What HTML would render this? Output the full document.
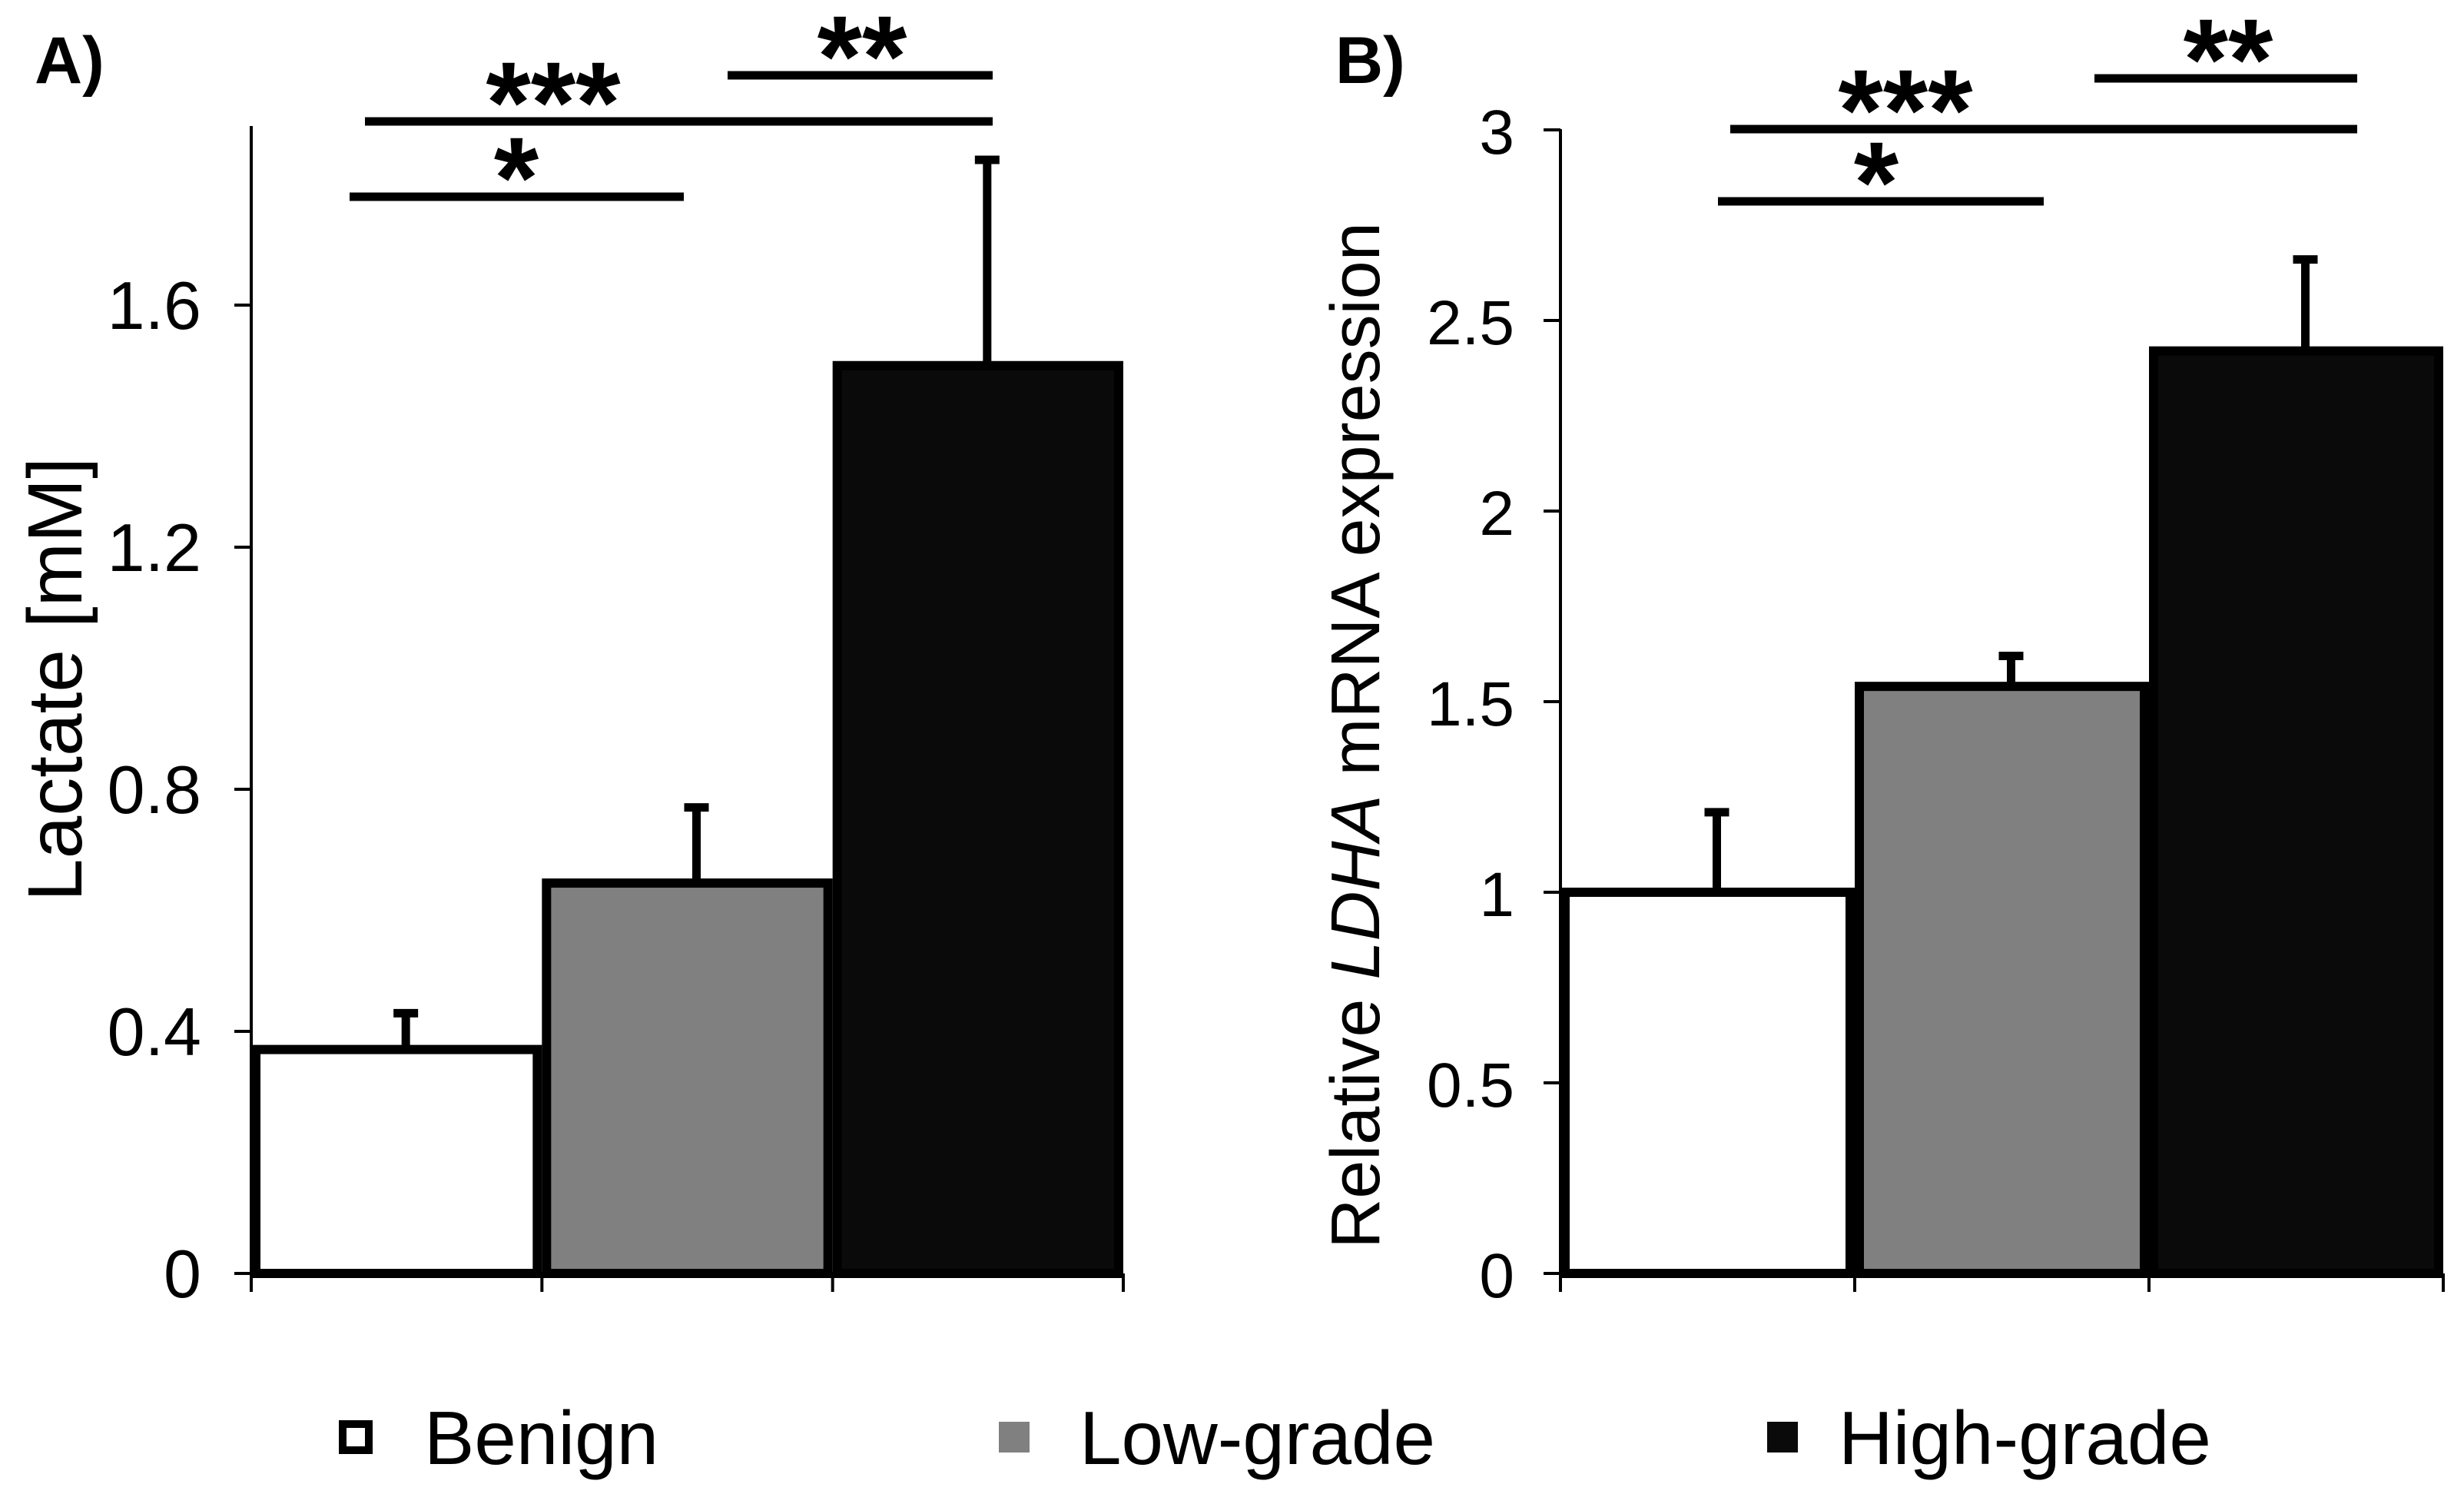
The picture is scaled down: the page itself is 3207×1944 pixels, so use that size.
<!DOCTYPE html>
<html><head><meta charset="utf-8"><style>
html,body{margin:0;padding:0;background:#fff;}
svg{display:block;font-family:"Liberation Sans",sans-serif;}
</style></head><body>
<svg id="chart" width="3207" height="1944" viewBox="0 0 3207 1944" xmlns="http://www.w3.org/2000/svg">
<text x="45" y="108" font-size="86" font-weight="bold">A)</text>
<text x="1738" y="108" font-size="86" font-weight="bold">B)</text>
<text transform="translate(106,884) rotate(-90)" text-anchor="middle" font-size="100">Lactate  [mM]</text>
<text transform="translate(1795,957) rotate(-90)" text-anchor="middle" font-size="90">Relative <tspan font-style="italic">LDHA</tspan> mRNA expression</text>
<g id="legend">
<g><rect x="446" y="1853" width="34" height="34" fill="#fff" stroke="#000" stroke-width="10"/><text x="552" y="1905" font-size="98">Benign</text></g>
<g><rect x="1300" y="1850" width="40" height="40" fill="#808080"/><text x="1405" y="1905" font-size="98">Low-grade</text></g>
<g><rect x="2300" y="1850" width="40" height="40" fill="#0a0a0a"/><text x="2393" y="1905" font-size="98">High-grade</text></g>
</g>
</svg>
<script>
const categories = ["Benign", "Low-grade", "High-grade"];
const lactateValues = [0.37, 0.645, 1.5];
const lactateErrors = [0.06, 0.125, 0.34];
const lactateTicks = ["0", "0.4", "0.8", "1.2", "1.6"];
const ldhaValues = [1.0, 1.54, 2.42];
const ldhaErrors = [0.21, 0.08, 0.24];
const ldhaTicks = ["0", "0.5", "1", "1.5", "2", "2.5", "3"];
const fills = ["#ffffff", "#808080", "#0a0a0a"];
const NS = "http://www.w3.org/2000/svg";
const svg = document.getElementById("chart");
function mk(tag, attrs, parent) {
  const e = document.createElementNS(NS, tag);
  for (const k in attrs) e.setAttribute(k, attrs[k]);
  (parent || svg).appendChild(e);
  return e;
}
function panel(p) {
  const g = mk("g", {});
  
  
  const y = v => p.y0 - (v / p.tickStep) * p.pxPerTick;
  const bw = (p.x1 - p.x0) / categories.length;
  const x = i => p.x0 + i * bw;
  p.values.forEach((v, i) => {
    const eb = mk("path", {d: `M${x(i)+bw/2+12},${y(v)} V${y(v+p.errors[i])} M${x(i)+bw/2-4},${y(v+p.errors[i])} H${x(i)+bw/2+28}`, stroke: "#000", "stroke-width": 11, fill: "none"}, g);
    
    
    const r = mk("rect", {x: x(i)+6, y: y(v), width: bw-12, height: p.y0 - y(v), fill: fills[i], stroke: "#000", "stroke-width": 12}, g);
    
    
  });
  const ax = mk("path", {d: `M${p.x0},${p.top} V${p.y0} H${p.x1}`, stroke: "#000", "stroke-width": 4, fill: "none"}, g);
  
  
  for (let i = 0; i <= categories.length; i++) {
    const t = mk("line", {x1: x(i), x2: x(i), y1: p.y0, y2: p.y0 + 24, stroke: "#000", "stroke-width": 4}, g);
    
    
  }
  p.ticks.forEach((lab, i) => {
    const v = parseFloat(lab);
    const t = mk("line", {x1: p.x0 - 22, x2: p.x0, y1: y(v), y2: y(v), stroke: "#000", "stroke-width": 4}, g);
    
    
    const tx = mk("text", {x: p.x0 - p.lblGap, y: y(v) + 31, "text-anchor": "end", "font-size": p.fs}, g);
    tx.textContent = lab;
    
    
  });
  p.sig.forEach(s => {
    const l = mk("line", {x1: s[0], x2: s[1], y1: s[2], y2: s[2], stroke: "#000", "stroke-width": 11}, g);
    
    
    const t = mk("text", {x: s[4], y: s[2] + 27, "text-anchor": "middle", "font-size": 150, "font-weight": "bold"}, g);
    t.textContent = s[3];
    
    
  });
}
panel({name: "panel-a-lactate", x0: 327, x1: 1462, y0: 1657, top: 164, tickStep: 0.4, pxPerTick: 315,
  values: lactateValues, errors: lactateErrors, ticks: lactateTicks, fs: 88, lblGap: 65,
  sig: [[455, 890, 256, "*", 672], [475, 1292, 158, "***", 720], [947, 1292, 98, "**", 1122]]});
panel({name: "panel-b-ldha", x0: 2031, x1: 3180, y0: 1657, top: 168, tickStep: 0.5, pxPerTick: 248,
  values: ldhaValues, errors: ldhaErrors, ticks: ldhaTicks, fs: 82, lblGap: 60,
  sig: [[2236, 2660, 262, "*", 2442], [2252, 3068, 168, "***", 2480], [2726, 3068, 102, "**", 2900]]});
</script>
</body></html>
